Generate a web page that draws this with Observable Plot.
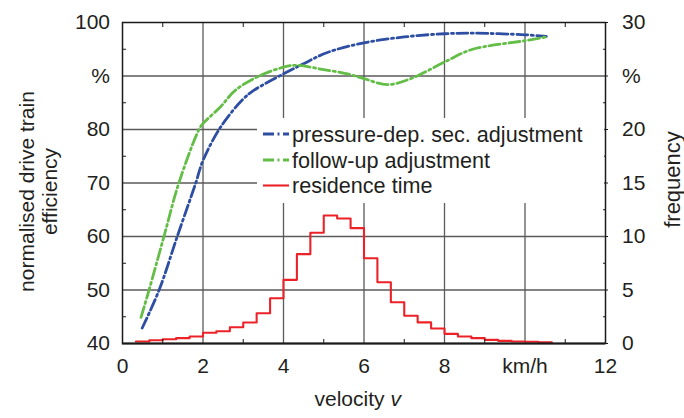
<!DOCTYPE html>
<html><head><meta charset="utf-8">
<script src="https://cdn.jsdelivr.net/npm/d3@7"></script>
<script src="https://cdn.jsdelivr.net/npm/@observablehq/plot@0.6"></script>
<style>html,body{margin:0;padding:0;background:#fff;overflow:hidden}</style>
</head><body><div id="chart"></div>
<script>
// pressure-dependent secondary adjustment (velocity km/h, efficiency %)
const pressureV   = [0.49, 0.91, 1.36, 1.82, 2.0, 2.45, 3.0, 3.26, 4.0, 4.5, 5.09, 6.0, 7.0, 8.0, 8.74, 10.0, 10.53];
const pressureEff = [42.9, 50.0, 60.0, 70.0, 74.2, 80.6, 85.7, 87.3, 90.4, 92.3, 94.4, 96.2, 97.3, 97.9, 98.0, 97.7, 97.4];
// follow-up adjustment
const followV   = [0.46, 0.66, 1.03, 1.40, 1.90, 2.0, 2.43, 2.8, 3.34, 4.0, 4.34, 4.92, 5.59, 6.0, 6.58, 7.16, 8.0, 8.66, 10.0, 10.53];
const followEff = [44.9, 50.0, 60.0, 70.0, 80.0, 81.1, 84.2, 87.3, 89.8, 91.65, 92.0, 91.3, 90.4, 89.5, 88.4, 89.5, 92.6, 94.9, 96.6, 97.3];
// residence time histogram: bin lower edges (km/h) and frequency (%)
const binStart = [0.333, 0.667, 1.0, 1.333, 1.667, 2.0, 2.333, 2.667, 3.0, 3.333, 3.667, 4.0, 4.333, 4.667, 5.0, 5.333, 5.667, 6.0, 6.333, 6.667, 7.0, 7.333, 7.667, 8.0, 8.333, 8.667, 9.0, 9.333, 9.667, 10.0, 10.333];
const binEnd = 10.667;
const residence = [0.19, 0.31, 0.40, 0.50, 0.65, 1.0, 1.15, 1.52, 1.96, 2.83, 4.23, 5.95, 8.35, 10.35, 11.96, 11.68, 10.78, 7.97, 5.73, 3.86, 2.6, 1.97, 1.4, 0.9, 0.65, 0.5, 0.34, 0.25, 0.19, 0.16, 0.12];

const xTicks = [0, 2, 4, 6, 8, 10, 12];
const xTickLabels = ["0", "2", "4", "6", "8", "km/h", "12"];
const yTicks = [40, 50, 60, 70, 80, 90, 100];
const yTickLabels = ["40", "50", "60", "70", "80", "%", "100"];
const freqTickLabels = ["0", "5", "10", "15", "20", "%", "30"];
const xMinor = [1, 3, 5, 7, 9, 11];
const yMinor = [45, 55, 65, 75, 85, 95];

const seriesNames = ["pressure-dep. sec. adjustment", "follow-up adjustment", "residence time"];
const seriesColors = ["#2d4ea2", "#63bd46", "#ec2229"];

// frequency (%) shares the efficiency axis: 0..30 % <-> 40..100 %
const freqToEff = f => 40 + 2 * f;

const pressure = pressureV.map((v, i) => ({v, e: pressureEff[i]}));
const follow = followV.map((v, i) => ({v, e: followEff[i]}));
const hist = binStart.map((v, i) => ({v, e: freqToEff(residence[i])}));
hist.push({v: binEnd, e: freqToEff(residence[residence.length - 1])});

const FONT = "Liberation Sans, Arial, Helvetica, sans-serif";
const TXT = "#231f20";
const dash = "11,3.5,2,3.5";

const plot = Plot.plot({
  width: 684, height: 418,
  marginLeft: 122, marginRight: 79, marginTop: 22, marginBottom: 75,
  style: {fontFamily: FONT, fontSize: "21px", color: TXT, background: "#fff"},
  x: {domain: [0, 12]},
  y: {domain: [40, 100]},
  marks: [
    Plot.gridX([2, 4, 6, 8, 10], {stroke: "#5a5a5a", strokeOpacity: 1, strokeWidth: 1.3}),
    Plot.gridY([50, 60, 70, 80, 90], {stroke: "#5a5a5a", strokeOpacity: 1, strokeWidth: 1.3}),
    Plot.line(pressure, {x: "v", y: "e", curve: "catmull-rom", stroke: seriesColors[0], strokeWidth: 2.8, strokeDasharray: dash}),
    Plot.line(follow, {x: "v", y: "e", curve: "catmull-rom", stroke: seriesColors[1], strokeWidth: 2.8, strokeDasharray: dash}),
    Plot.line(hist, {x: "v", y: "e", curve: "step-after", stroke: seriesColors[2], strokeWidth: 2.1}),
    Plot.frame({stroke: "#1a1a1a", strokeWidth: 1.5}),
    Plot.ruleY([40], {stroke: "#1a1a1a", strokeWidth: 2.2}),
    // minor ticks (inward)
    Plot.axisX(xMinor, {anchor: "bottom", tickSize: -4, tickFormat: () => "", label: null, stroke: "#1a1a1a"}),
    Plot.axisX(xMinor, {anchor: "top", tickSize: -4, tickFormat: () => "", label: null, stroke: "#1a1a1a"}),
    Plot.axisY(yMinor, {anchor: "left", tickSize: -4, tickFormat: () => "", label: null, stroke: "#1a1a1a"}),
    Plot.axisY(yMinor, {anchor: "right", tickSize: -3, tickFormat: () => "", label: null, stroke: "#1a1a1a"}),
    // labelled axes
    Plot.axisX(xTicks, {anchor: "bottom", tickSize: 0, tickPadding: 15, fontSize: 21, fill: TXT,
      tickFormat: d => xTickLabels[xTicks.indexOf(d)], label: null}),
    Plot.axisY(yTicks, {anchor: "left", tickSize: 0, tickPadding: 12.5, fontSize: 21, fill: TXT,
      tickFormat: d => yTickLabels[yTicks.indexOf(d)], label: null}),
    Plot.axisY(yTicks, {anchor: "right", tickSize: 2, tickPadding: 14.5, fontSize: 21, fill: TXT, stroke: "#1a1a1a",
      tickFormat: d => freqTickLabels[yTicks.indexOf(d)], label: null}),
    // axis titles
    Plot.text(["normalised drive train\nefficiency"], {frameAnchor: "left", textAnchor: "middle", rotate: -90, dx: -84, dy: 8.5, fontSize: 21, fill: TXT, lineHeight: 1.1}),
    Plot.text(["frequency"], {frameAnchor: "right", textAnchor: "middle", rotate: -90, dx: 67, dy: -3.5, fontSize: 22, fill: TXT}),
    Plot.text(["velocity"], {frameAnchor: "bottom", textAnchor: "end", dx: 20.5, dy: 62, fontSize: 21, fill: TXT}),
    Plot.text(["v"], {frameAnchor: "bottom", textAnchor: "start", dx: 26.5, dy: 62, fontSize: 21, fill: TXT, fontStyle: "italic"})
  ]
});

// legend (white box over the grid)
const svg = d3.select(plot);
const lg = svg.append("g").attr("font-family", FONT).attr("font-size", 21.6)
  .attr("text-anchor", "start").attr("fill", TXT);
lg.append("rect").attr("x", 257).attr("y", 118).attr("width", 347).attr("height", 85)
  .attr("fill", "#ffffff").style("fill", "#ffffff").attr("stroke", "none");
const rows = [134, 160, 185.5];
seriesNames.forEach((name, i) => {
  lg.append("line").attr("x1", 263).attr("x2", 289).attr("y1", rows[i]).attr("y2", rows[i])
    .attr("stroke", seriesColors[i]).attr("stroke-width", i < 2 ? 2.8 : 2.1)
    .attr("stroke-dasharray", i < 2 ? dash : null);
  lg.append("text").attr("x", 292).attr("y", rows[i]).attr("dy", "0.35em").text(name);
});
document.getElementById("chart").appendChild(plot);
</script>
</body></html>
